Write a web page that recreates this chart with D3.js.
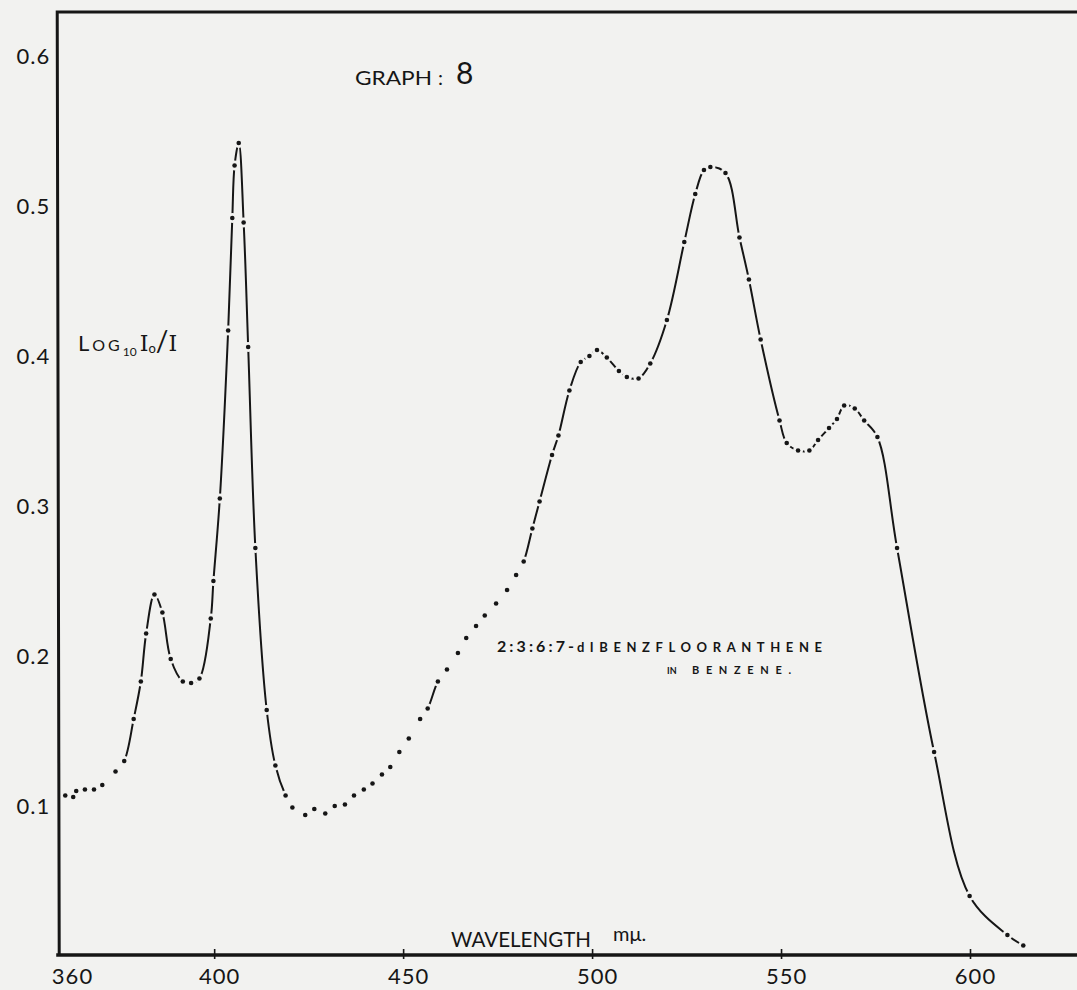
<!DOCTYPE html>
<html lang="en">
<head>
<meta charset="UTF-8">
<title>Graph 8 - 2:3:6:7-dibenzfluoranthene in benzene</title>
<script src="https://d3js.org/d3.v7.min.js"></script>
<style>
  body { margin: 0; background: #f2f2f0; }
  svg { display: block; }
  text { fill: #161616; font-family: Lato, "DejaVu Sans", sans-serif; }
</style>
</head>
<body>
<svg id="chart"></svg>
<script>
const wavelength = [
  360.6, 362.7, 363.5, 365.8, 368.2, 370.4, 373.9, 376.2, 378.7, 380.6,
  382.0, 384.2, 386.3, 388.5, 391.7, 393.9, 396.1, 399.1, 399.8, 401.5,
  403.7, 404.8, 405.4, 406.5, 407.8, 409.0, 410.9, 413.9, 416.2, 418.9,
  420.7, 424.1, 426.5, 429.4, 431.9, 434.6, 437.0, 439.6, 441.9, 444.4,
  446.6, 449.0, 451.5, 454.5, 456.5, 459.2, 461.6, 464.5, 466.7, 469.3,
  471.6, 474.6, 477.5, 479.9, 481.9, 484.2, 486.1, 489.4, 491.1, 494.0,
  497.0, 499.3, 501.3, 503.9, 507.1, 509.2, 512.3, 515.4, 519.8, 524.4,
  527.3, 529.6, 531.3, 535.3, 539.0, 541.5, 544.6, 549.6, 551.5, 554.5,
  557.5, 559.8, 562.7, 564.8, 566.7, 569.5, 572.0, 575.5, 580.7, 590.5,
  599.9, 609.9, 614.1
];
const absorbance = [
  0.107, 0.106, 0.110, 0.111, 0.111, 0.114, 0.123, 0.130, 0.158, 0.183,
  0.215, 0.241, 0.229, 0.198, 0.183, 0.182, 0.185, 0.225, 0.250, 0.305,
  0.417, 0.492, 0.527, 0.542, 0.489, 0.406, 0.272, 0.164, 0.127, 0.107,
  0.099, 0.094, 0.098, 0.095, 0.100, 0.101, 0.107, 0.111, 0.115, 0.121,
  0.126, 0.136, 0.145, 0.158, 0.165, 0.183, 0.191, 0.202, 0.212, 0.220,
  0.227, 0.235, 0.244, 0.254, 0.263, 0.285, 0.303, 0.334, 0.347, 0.377,
  0.396, 0.400, 0.404, 0.399, 0.390, 0.386, 0.385, 0.395, 0.424, 0.476,
  0.508, 0.524, 0.526, 0.522, 0.479, 0.451, 0.411, 0.357, 0.342, 0.337,
  0.337, 0.344, 0.352, 0.358, 0.367, 0.365, 0.357, 0.346, 0.272, 0.136,
  0.040, 0.014, 0.007
];
const xTicks = [360, 400, 450, 500, 550, 600];
const yTicks = [0.1, 0.2, 0.3, 0.4, 0.5, 0.6];
// stretches where only the points were marked, no joining line
const dotsOnly = [[360, 376.2], [418.9, 456.5], [459.2, 481.9]];

const width = 1077, height = 990;
const ink = "#161616";

const svg = d3.select("#chart").attr("width", width).attr("height", height);

const x = d3.scaleLinear().domain([360, 600]).range([63, 970]);
const y = d3.scaleLinear().domain([0, 0.6]).range([956, 56]);

const points = wavelength.map((w, i) => [w, absorbance[i]]);

const frameLeft = x(359), frameTop = 12, frameBottom = 955;

// mask: gaps round each point and no line in the dotted stretches
const defs = svg.append("defs");
const mask = defs.append("mask")
    .attr("id", "gaps")
    .attr("maskUnits", "userSpaceOnUse")
    .attr("x", 0).attr("y", 0).attr("width", width).attr("height", height);
mask.append("rect").attr("width", width).attr("height", height).attr("fill", "white");
mask.selectAll("rect.cut").data(dotsOnly).join("rect")
    .attr("class", "cut")
    .attr("x", d => x(d[0])).attr("width", d => x(d[1]) - x(d[0]))
    .attr("y", 0).attr("height", height)
    .attr("fill", "black");
mask.selectAll("circle").data(points).join("circle")
    .attr("cx", d => x(d[0])).attr("cy", d => y(d[1]))
    .attr("r", 5).attr("fill", "black");

const line = d3.line()
    .x(d => x(d[0]))
    .y(d => y(d[1]))
    .curve(d3.curveCatmullRom.alpha(0.5));

svg.append("path")
    .datum(points)
    .attr("d", line)
    .attr("fill", "none")
    .attr("stroke", ink)
    .attr("stroke-width", 2)
    .attr("mask", "url(#gaps)");

svg.append("g").selectAll("circle").data(points).join("circle")
    .attr("cx", d => x(d[0])).attr("cy", d => y(d[1]))
    .attr("r", 2.3).attr("fill", ink);

// frame
svg.append("path")
    .attr("d", `M${width},${frameTop}L${frameLeft - 2},${frameTop}L${frameLeft},${frameBottom}`)
    .attr("fill", "none").attr("stroke", ink).attr("stroke-width", 3);
svg.append("line")
    .attr("x1", frameLeft - 3).attr("x2", width)
    .attr("y1", frameBottom).attr("y2", frameBottom)
    .attr("stroke", ink).attr("stroke-width", 3.6);

// x axis
const xAxis = svg.append("g")
    .attr("transform", `translate(0,${frameBottom})`)
    .call(d3.axisBottom(x).tickValues(xTicks).tickFormat(d3.format("d"))
        .tickSizeInner(4).tickSizeOuter(0).tickPadding(9));
xAxis.select(".domain").remove();
xAxis.selectAll(".tick line")
    .attr("y1", -6).attr("y2", 4)
    .attr("stroke", ink).attr("stroke-width", 1.6)
    .attr("display", d => d === 360 ? "none" : null);
xAxis.selectAll(".tick text")
    .attr("dx", d => d === 360 ? 9 : 5)
    .style("font-size", "22px")
    .style("letter-spacing", "1px")
    .attr("fill", ink);

// y axis
const yAxis = svg.append("g")
    .attr("transform", `translate(${frameLeft},0)`)
    .call(d3.axisLeft(y).tickValues(yTicks).tickFormat(d3.format(".1f"))
        .tickSize(0).tickPadding(9));
yAxis.select(".domain").remove();
yAxis.selectAll(".tick text")
    .style("font-size", "22px")
    .style("letter-spacing", "1px")
    .attr("fill", ink);

// title
const title = svg.append("text").attr("y", 85);
title.append("tspan").attr("x", 355).style("font-size", "19px")
    .attr("textLength", 77).attr("lengthAdjust", "spacingAndGlyphs").text("GRAPH");
title.append("tspan").attr("x", 438).style("font-size", "20px").text(":");
title.append("tspan").attr("x", 456).attr("dy", -1).style("font-size", "30px").text("8");

// y label  Log10 I0/I
const yLabel = svg.append("text").attr("x", 78).attr("y", 351).style("font-size", "22px");
yLabel.append("tspan").text("L");
yLabel.append("tspan").attr("dx", 3).style("font-size", "16px").style("letter-spacing", "3px").text("OG");
yLabel.append("tspan").attr("dy", 5).style("font-size", "12px").text("10");
yLabel.append("tspan").attr("dy", -5).attr("dx", 3).style("font-family", "'DejaVu Serif', serif").text("I");
yLabel.append("tspan").attr("dy", 2).style("font-size", "13px").text("o");
yLabel.append("tspan").attr("dy", -2).style("font-size", "28px").text("/");
yLabel.append("tspan").style("font-family", "'DejaVu Serif', serif").text("I");

// compound note
const note = svg.append("text").attr("y", 652).style("font-weight", "bold");
note.append("tspan").attr("x", 497).attr("textLength", 77).attr("lengthAdjust", "spacing")
    .style("font-size", "16px").text("2:3:6:7-");
note.append("tspan").attr("x", 577).attr("textLength", 245).attr("lengthAdjust", "spacing")
    .style("font-size", "13px").text("dIBENZFLOORANTHENE");

const solvent = svg.append("text").attr("y", 674).style("font-weight", "bold");
solvent.append("tspan").attr("x", 667).style("font-size", "9px").text("IN");
solvent.append("tspan").attr("x", 692).attr("textLength", 99).attr("lengthAdjust", "spacing")
    .style("font-size", "11px").text("BENZENE.");

// x label
svg.append("text").attr("x", 451).attr("y", 947)
    .attr("textLength", 140).attr("lengthAdjust", "spacingAndGlyphs")
    .style("font-size", "22px").text("WAVELENGTH");
svg.append("text").attr("x", 613).attr("y", 941)
    .style("font-size", "20px").text("m\u03bc.");
</script>
</body>
</html>
